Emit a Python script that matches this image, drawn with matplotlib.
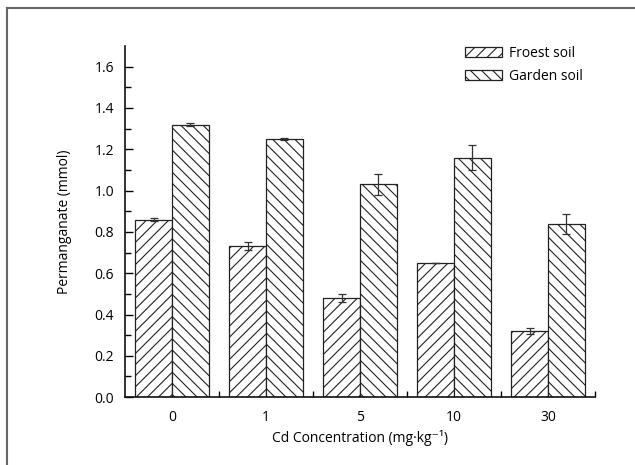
import matplotlib
matplotlib.use('Agg')
import matplotlib.pyplot as plt
from matplotlib.lines import Line2D
import numpy as np

plt.rcParams['font.family'] = ['Open Sans', 'DejaVu Sans']
plt.rcParams['hatch.linewidth'] = 0.8

cd_levels = ['0', '1', '5', '10', '30']
forest = [0.86, 0.73, 0.48, 0.65, 0.32]
forest_err = [0.005, 0.02, 0.02, 0.0, 0.015]
garden = [1.32, 1.25, 1.03, 1.16, 0.84]
garden_err = [0.008, 0.006, 0.05, 0.06, 0.048]

fig = plt.figure(figsize=(6.35, 4.65), dpi=100)
ax = fig.add_axes([0.197, 0.146, 0.740, 0.755])

x = np.arange(len(cd_levels))
w = 0.39
err_kw = dict(ecolor='#333333', elinewidth=0.9, capsize=3, capthick=0.9)

ax.bar(x - w / 2, forest, w, yerr=forest_err, color='white', edgecolor='#222222',
       linewidth=0.9, hatch='///', label='Froest soil', error_kw=err_kw)
ax.bar(x + w / 2, garden, w, yerr=garden_err, color='white', edgecolor='#222222',
       linewidth=0.9, hatch='\\\\\\', label='Garden soil', error_kw=err_kw)

ax.set_xlim(-0.5, len(cd_levels) - 0.5)
ax.set_ylim(0, 1.7)
ax.set_yticks(np.arange(0, 1.61, 0.2))
ax.set_yticklabels([f'{v:.1f}' for v in np.arange(0, 1.61, 0.2)])
ax.set_yticks(np.arange(0.1, 1.7, 0.2), minor=True)
ax.set_xticks(x)
ax.set_xticklabels(cd_levels)
ax.set_xticks(np.arange(0.5, len(cd_levels), 1.0), minor=True)

ax.tick_params(axis='y', which='major', direction='in', length=6, width=1, labelsize=10, pad=8)
ax.tick_params(axis='y', which='minor', direction='in', length=4, width=1)
ax.tick_params(axis='x', which='major', length=0, labelsize=10, pad=9)
ax.tick_params(axis='x', which='minor', direction='in', length=4, width=1)

for side in ['top', 'right']:
    ax.spines[side].set_visible(False)
for side in ['left', 'bottom']:
    ax.spines[side].set_linewidth(1.2)
    ax.spines[side].set_color('#111111')

ax.set_ylabel('Permanganate (mmol)', fontsize=10, labelpad=16)
ax.set_xlabel('Cd Concentration (mg·kg⁻¹)', fontsize=10, labelpad=4)

ax.legend(loc='upper left', bbox_to_anchor=(0.723, 1.0), frameon=False, fontsize=10,
          borderpad=0, borderaxespad=0, handlelength=2.7, handleheight=0.75,
          handletextpad=0.5, labelspacing=0.55)

# panel frame
fig.add_artist(Line2D([7 / 635, 7 / 635], [0, 1 - 8 / 465], color='#666666', lw=1.5))
fig.add_artist(Line2D([7 / 635, 1], [1 - 8 / 465, 1 - 8 / 465], color='#666666', lw=1.5))

fig.savefig('out.png', dpi=100)
